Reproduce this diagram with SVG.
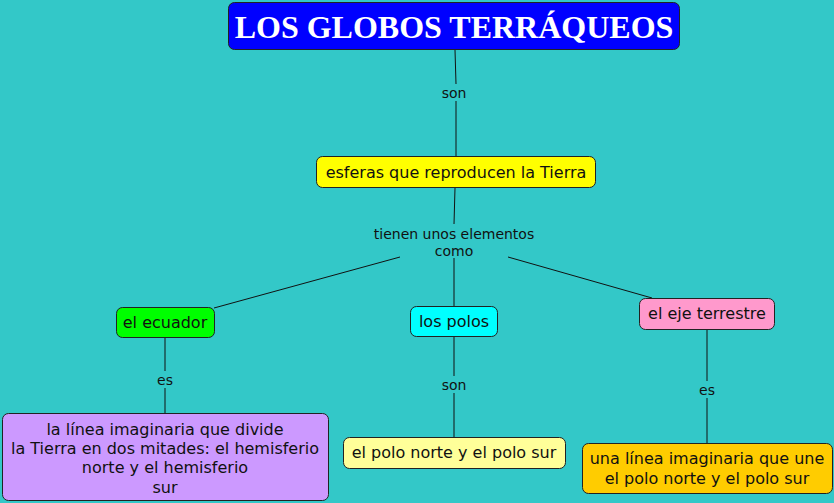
<svg xmlns="http://www.w3.org/2000/svg" width="834" height="503" viewBox="0 0 834 503">
<style>
.box{stroke:#222;stroke-width:1}
.t{font-family:"DejaVu Sans",Verdana,sans-serif;font-size:16px;fill:#111;text-anchor:middle}
.lbl{font-family:"DejaVu Sans",Verdana,sans-serif;font-size:14px;fill:#111;text-anchor:middle}
.ln{stroke:#111;stroke-width:1;fill:none}
</style>
<rect width="834" height="503" fill="#33C8C8"/>
<g id="connectors">
<line class="ln" x1="455" y1="50" x2="456" y2="84"/>
<line class="ln" x1="456" y1="101" x2="456" y2="156"/>
<line class="ln" x1="455" y1="188" x2="454" y2="224"/>
<line class="ln" x1="400" y1="257" x2="214" y2="308"/>
<line class="ln" x1="454" y1="258" x2="454" y2="306"/>
<line class="ln" x1="508" y1="257" x2="652" y2="298"/>
<line class="ln" x1="165" y1="337" x2="165" y2="371"/>
<line class="ln" x1="165" y1="388" x2="165" y2="413"/>
<line class="ln" x1="454" y1="336" x2="454" y2="376"/>
<line class="ln" x1="454" y1="393" x2="454" y2="437"/>
<line class="ln" x1="707" y1="329" x2="707" y2="381"/>
<line class="ln" x1="707" y1="398" x2="707" y2="443"/>
<text class="lbl" x="454" y="98">son</text>
<text class="lbl" x="454" y="239">tienen unos elementos</text>
<text class="lbl" x="454" y="256">como</text>
<text class="lbl" x="165" y="385">es</text>
<text class="lbl" x="454" y="390">son</text>
<text class="lbl" x="707" y="395">es</text>
</g>
<g id="title">
<rect class="box" x="228.5" y="2.5" width="451" height="47" rx="6" fill="#0000FF"/>
<text x="454" y="38" font-family="'Liberation Serif','Times New Roman',serif" font-weight="bold" font-size="32" fill="#fff" text-anchor="middle">LOS GLOBOS TERRÁQUEOS</text>
</g>
<g id="esferas">
<rect class="box" x="316.5" y="156.5" width="279" height="31" rx="6" fill="#FFFF00"/>
<text class="t" x="456" y="178">esferas que reproducen la Tierra</text>
</g>
<g id="ecuador">
<rect class="box" x="116.5" y="307.5" width="98" height="30" rx="6" fill="#00FF00"/>
<text class="t" x="165" y="328">el ecuador</text>
</g>
<g id="polos">
<rect class="box" x="410.5" y="306.5" width="87" height="30" rx="6" fill="#00FFFF"/>
<text class="t" x="454" y="327">los polos</text>
</g>
<g id="eje">
<rect class="box" x="639.5" y="298.5" width="135" height="31" rx="6" fill="#FF99CC"/>
<text class="t" x="707" y="319">el eje terrestre</text>
</g>
<g id="linea-ecuador">
<rect class="box" x="2.5" y="413.5" width="326" height="87" rx="6" fill="#CC99FF"/>
<text class="t" x="165" y="435">la línea imaginaria que divide</text>
<text class="t" x="165" y="454">la Tierra en dos mitades: el hemisferio</text>
<text class="t" x="165" y="473">norte y el hemisferio</text>
<text class="t" x="165" y="493">sur</text>
</g>
<g id="polo-norte-sur">
<rect class="box" x="343.5" y="437.5" width="222" height="31" rx="6" fill="#FFFF99"/>
<text class="t" x="454" y="458">el polo norte y el polo sur</text>
</g>
<g id="linea-eje">
<rect class="box" x="582.5" y="443.5" width="250" height="50" rx="6" fill="#FFCC00"/>
<text class="t" x="707" y="464">una línea imaginaria que une</text>
<text class="t" x="707" y="484">el polo norte y el polo sur</text>
</g>
</svg>
